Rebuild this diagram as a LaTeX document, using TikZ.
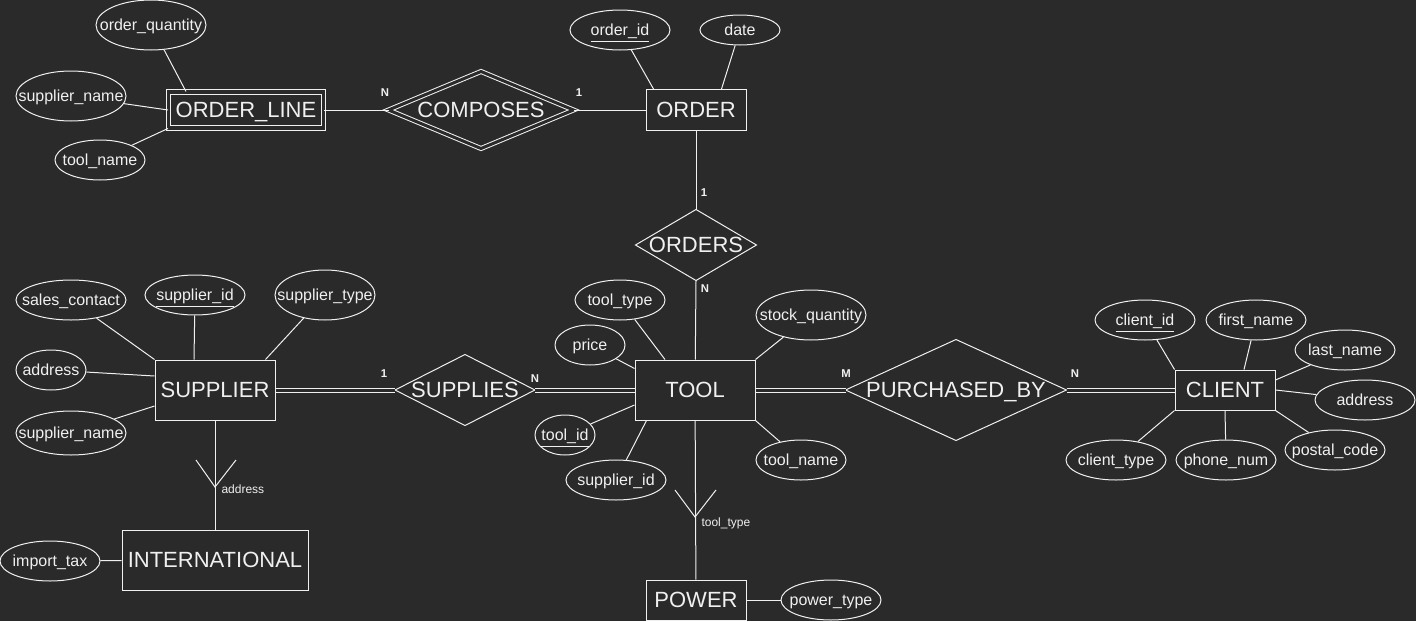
\documentclass[tikz,border=0pt]{standalone}
\usepackage{fontspec}
\setmainfont{Liberation Sans}
\usetikzlibrary{shapes.geometric}
\definecolor{bgcol}{HTML}{2A2A2A}
\definecolor{inkcol}{HTML}{F0F0F0}
\newdimen\pxu \pxu=0.75pt

\begin{document}
\begin{tikzpicture}[x=0.75pt, y=-0.75pt, line width=1\pxu, color=inkcol,
  ent/.style={draw, rectangle, inner sep=2pt, text depth=0pt, font=\fontsize{16.5}{19}\selectfont},
  weakent/.style={ent, double=bgcol, double distance=3.5\pxu},
  rel/.style={rectangle, inner sep=0pt, text depth=0pt, font=\fontsize{16.5}{19}\selectfont},
  attr/.style={draw, ellipse, inner sep=0pt, text depth=0pt, font=\fontsize{12}{14}\selectfont,
    execute at begin node={\hbox to 0pt\bgroup\hss}, execute at end node={\hss\egroup}},
  card/.style={font=\fontsize{8.5}{10}\selectfont\bfseries},
  spec/.style={anchor=west, inner sep=0pt, font=\fontsize{9}{11}\selectfont},
  dbl/.style={double=bgcol, double distance=3\pxu}]
  \fill[bgcol] (0,0) rectangle (1416,621);
  \useasboundingbox (0,0) rectangle (1416,621);

  % entities and relationships
  \node[weakent, minimum width=155\pxu, minimum height=36\pxu] (ol) at (246,110) {ORDER\_LINE};
  \node[rel, minimum width=184\pxu, minimum height=76\pxu] (comp) at (481,110) {COMPOSES};
  \node[ent, minimum width=100\pxu, minimum height=41\pxu] (order) at (696,110) {ORDER};
  \node[rel, minimum width=120\pxu, minimum height=70\pxu] (orders) at (696,245) {ORDERS};
  \node[ent, minimum width=120\pxu, minimum height=60\pxu] (tool) at (695,390) {TOOL};
  \node[ent, minimum width=120\pxu, minimum height=60\pxu] (sup) at (215,390) {SUPPLIER};
  \node[rel, minimum width=139\pxu, minimum height=70\pxu] (supp) at (465,390) {SUPPLIES};
  \node[rel, minimum width=220\pxu, minimum height=100\pxu] (purch) at (956,390) {PURCHASED\_BY};
  \node[ent, minimum width=100\pxu, minimum height=40\pxu] (cli) at (1225,390) {CLIENT};
  \node[ent, minimum width=186\pxu, minimum height=60\pxu] (intl) at (215,560) {INTERNATIONAL};
  \node[ent, minimum width=100\pxu, minimum height=40\pxu] (power) at (696,600) {POWER};

  \draw[dbl] (comp.west) -- (comp.north) -- (comp.east) -- (comp.south) -- cycle;
  \draw (orders.west) -- (orders.north) -- (orders.east) -- (orders.south) -- cycle;
  \draw (supp.west) -- (supp.north) -- (supp.east) -- (supp.south) -- cycle;
  \draw (purch.west) -- (purch.north) -- (purch.east) -- (purch.south) -- cycle;

  % attributes
  \node[attr, minimum width=110\pxu, minimum height=50\pxu] (oq) at (151,25) {order\_quantity};
  \node[attr, minimum width=110\pxu, minimum height=50\pxu] (olsn) at (71,96) {supplier\_name};
  \node[attr, minimum width=90\pxu, minimum height=40\pxu] (oltn) at (100,160) {tool\_name};
  \node[attr, minimum width=100\pxu, minimum height=40\pxu] (oid) at (620,30) {\underline{order\_id}};
  \node[attr, minimum width=80\pxu, minimum height=30\pxu] (odate) at (740,30) {date};

  \node[attr, minimum width=110\pxu, minimum height=40\pxu] (ssc) at (71,300) {sales\_contact};
  \node[attr, minimum width=100\pxu, minimum height=40\pxu] (sid) at (195,295) {\underline{supplier\_id}};
  \node[attr, minimum width=100\pxu, minimum height=50\pxu] (stype) at (325,295) {supplier\_type};
  \node[attr, minimum width=70\pxu, minimum height=40\pxu] (saddr) at (51,370) {address};
  \node[attr, minimum width=110\pxu, minimum height=44\pxu] (ssn) at (71,433) {supplier\_name};
  \node[attr, minimum width=100\pxu, minimum height=40\pxu] (itax) at (50,561) {import\_tax};

  \node[attr, minimum width=90\pxu, minimum height=40\pxu] (ttype) at (620,300) {tool\_type};
  \node[attr, minimum width=70\pxu, minimum height=40\pxu] (tprice) at (590,345) {price};
  \node[attr, minimum width=110\pxu, minimum height=50\pxu] (tstock) at (811,315) {stock\_quantity};
  \node[attr, minimum width=60\pxu, minimum height=40\pxu] (tid) at (565,435) {\underline{tool\_id}};
  \node[attr, minimum width=100\pxu, minimum height=40\pxu] (tsid) at (616,480) {supplier\_id};
  \node[attr, minimum width=90\pxu, minimum height=40\pxu] (tname) at (801,460) {tool\_name};
  \node[attr, minimum width=100\pxu, minimum height=40\pxu] (ptype) at (831,600) {power\_type};

  \node[attr, minimum width=100\pxu, minimum height=40\pxu] (cid) at (1145,320) {\underline{client\_id}};
  \node[attr, minimum width=100\pxu, minimum height=40\pxu] (cfn) at (1256,320) {first\_name};
  \node[attr, minimum width=100\pxu, minimum height=40\pxu] (cln) at (1345,350) {last\_name};
  \node[attr, minimum width=100\pxu, minimum height=40\pxu] (caddr) at (1365,400) {address};
  \node[attr, minimum width=100\pxu, minimum height=40\pxu] (cpc) at (1335,450) {postal\_code};
  \node[attr, minimum width=100\pxu, minimum height=40\pxu] (cphone) at (1226,460) {phone\_num};
  \node[attr, minimum width=100\pxu, minimum height=40\pxu] (ctype) at (1116,460) {client\_type};

  % relationship lines
  \draw (ol) -- (comp.west);
  \draw (comp.east) -- (order);
  \draw (order) -- (orders.north);
  \draw (orders.south) -- (tool);
  \draw[dbl] (sup) -- (supp.west);
  \draw[dbl] (supp.east) -- (tool);
  \draw[dbl] (tool) -- (purch.west);
  \draw[dbl] (purch.east) -- (cli);

  \node[card] (c1) at (385,93) {N};
  \node[card] (c2) at (579,93) {1};
  \node[card] (c3) at (704,193) {1};
  \node[card] (c4) at (705,289) {N};
  \node[card] (c5) at (384,374) {1};
  \node[card] (c6) at (535,379) {N};
  \node[card] (c7) at (846,374) {M};
  \node[card] (c8) at (1075,374) {N};

  % attribute lines
  \draw (oq) -- ([xshift=18\pxu]ol.north west);
  \draw (olsn) -- (ol.west);
  \draw (oltn) -- (ol.south west);
  \draw (oid) -- ([xshift=8\pxu]order.north west);
  \draw (odate) -- ([xshift=-25\pxu]order.north east);

  \draw (ssc) -- (sup.north west);
  \draw (sid) -- ([xshift=-21\pxu]sup.north);
  \draw (stype) -- ([xshift=-10\pxu]sup.north east);
  \draw (saddr) -- ([yshift=14\pxu]sup.west);
  \draw (ssn) -- ([yshift=-16\pxu]sup.west);
  \draw (itax) -- (intl);

  \draw (ttype) -- ([xshift=-30\pxu]tool.north);
  \draw (tprice) -- ([yshift=-9\pxu]tool.north west);
  \draw (tstock) -- (tool.north east);
  \draw (tid) -- ([yshift=-15\pxu]tool.west);
  \draw (tsid) -- ([xshift=12\pxu]tool.south west);
  \draw (tname) -- (tool.south east);
  \draw (power) -- (ptype);

  \draw (cid) -- (cli.north west);
  \draw (cfn) -- ([xshift=19\pxu]cli.north);
  \draw (cln) -- ([yshift=10\pxu]cli.east);
  \draw (caddr) -- (cli.east);
  \draw (cpc) -- (cli.south east);
  \draw (cphone) -- (cli.south);
  \draw (ctype) -- (cli.south west);

  % specialisations
  \draw (sup) -- (intl);
  \coordinate (supv) at (215,487);
  \draw (supv) ++(-19,-27) -- (supv) -- ++(21,-27);
  \node[spec] (supl) at (221,489) {address};
  \draw (tool) -- (power);
  \coordinate (toolv) at (695,517);
  \draw (toolv) ++(-20,-27) -- (toolv) -- ++(21,-27);
  \node[spec] (tooll) at (701,523) {tool\_type};
\end{tikzpicture}
\end{document}
